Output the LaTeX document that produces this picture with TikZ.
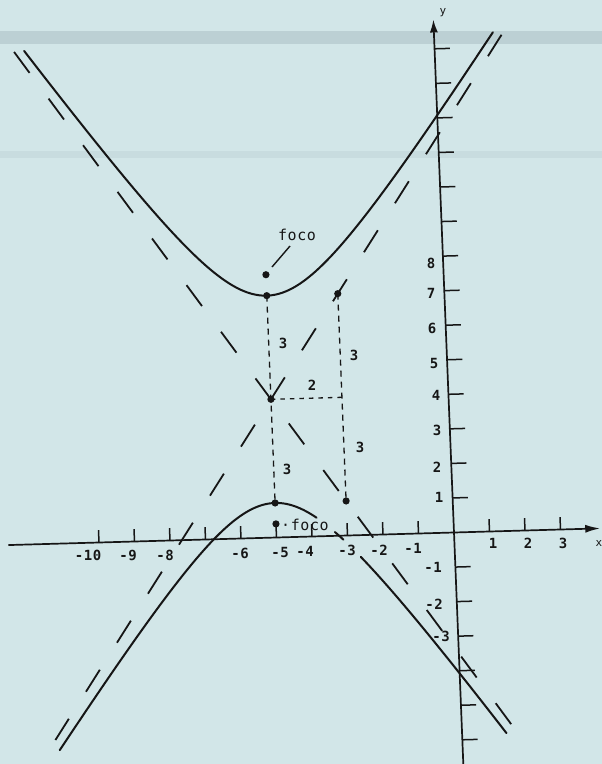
\documentclass[tikz,border=0pt]{standalone}
\usepackage{fontspec}
\usetikzlibrary{arrows.meta}
\newfontfamily\plotfont[LetterSpace=4]{DejaVu Sans Mono}
\definecolor{paper}{HTML}{D2E6E8}
\definecolor{bandc}{HTML}{B4C8CC}
\definecolor{inkc}{HTML}{161616}
\begin{document}
\begin{tikzpicture}[x=1pt,y=1pt,
  curve/.style={draw=inkc,line width=2pt,line cap=round},
  asym/.style={draw=inkc,line width=1.8pt,dash pattern=on 26pt off 32pt},
  boxln/.style={draw=inkc,line width=1.3pt,dash pattern=on 6pt off 5pt},
  hboxln/.style={draw=inkc,line width=1.3pt,dash pattern=on 4.5pt off 5pt},
  axisln/.style={draw=inkc,line width=1.7pt},
  tickln/.style={draw=inkc,line width=1.5pt},
  leader/.style={draw=inkc,line width=1.4pt},
  lbl/.style={text=inkc,font=\plotfont\bfseries\fontsize{14}{16}\selectfont,inner sep=0pt},
  smalllbl/.style={text=inkc,font=\plotfont\fontsize{11}{13}\selectfont,inner sep=0pt},
  dotpt/.style={fill=inkc}]
% page
\fill[paper] (0,0) rectangle (602,-764);
\useasboundingbox (0,0) rectangle (602,-764);
\fill[bandc,opacity=0.7] (0,-31) rectangle (602,-44);
\fill[bandc,opacity=0.3] (0,-151) rectangle (602,-158);

\begin{scope}[shift={(454pt,-532.5pt)},x={(35.5pt,1.0pt)},y={(-1.39pt,34.55pt)}]
  % axes
  \coordinate (xa0) at (-12.55,0);
  \coordinate (xa1) at (4.12,0);
  \coordinate (ya0) at (0,-7);
  \coordinate (ya1) at (0,14.85);
  \draw[axisln,-{Latex[length=15pt,width=8pt]}] (xa0) -- (xa1);
  \draw[axisln,-{Latex[length=13pt,width=8pt]}] (ya0) -- (ya1);
  % ticks
  \foreach \t in {-10,-9,-8,-7,-6,-5,-4,-3,-2,-1,1,2,3}
    \draw[tickln] (\t,0) -- (\t,0.36);
  \foreach \t in {-6,-5,-4,-3,-2,-1,1,2,3,4,5,6,7,8,9,10,11,12,13,14}
    \draw[tickln] (0,\t) -- (0.43,\t);

  % key points
  \coordinate (C) at (-5,4);
  \coordinate (V1) at (-5,7);
  \coordinate (V2) at (-5,1);
  \coordinate (F1) at (-5,7.606);
  \coordinate (F2) at (-5,0.394);
  \coordinate (R1) at (-3,7);
  \coordinate (R2) at (-3,1);
  \coordinate (R0) at (-3,4);

  % asymptotes (from centre outward)
  \coordinate (A1u) at (1.9,14.35);
  \coordinate (A1d) at (-11.45,-5.675);
  \coordinate (A2u) at (-11.9,14.35);
  \coordinate (A2d) at (1.6,-5.9);
  \draw[asym] (C) -- (A1u);
  \draw[asym] (C) -- (A2u);
  \draw[asym,dash phase=28pt] (C) -- (A1d);
  \draw[asym,dash phase=28pt] (C) -- (A2d);

  % auxiliary rectangle lines
  \draw[boxln] (V1) -- (V2);
  \draw[boxln] (R1) -- (R2);
  \draw[hboxln] (C) -- (R0);

  % hyperbola branches
  \draw[curve] plot[domain=-11.55:1.66,samples=120,smooth] (\x,{4+3*sqrt(1+((\x+5)/2)^2)});
  \draw[curve] plot[domain=-11.34:-3.85,samples=100,smooth] (\x,{4-3*sqrt(1+((\x+5)/2)^2)});
  \draw[curve] plot[domain=-3.35:-3.12,samples=5] (\x,{4-3*sqrt(1+((\x+5)/2)^2)});
  \draw[curve] plot[domain=-2.65:1.25,samples=80,smooth] (\x,{4-3*sqrt(1+((\x+5)/2)^2)});

  % points
  \foreach \p in {C,V1,V2,F1,F2,R1,R2}
    \fill[dotpt] (\p) circle[radius=3.6pt];
\end{scope}

% axis names
\node[smalllbl] (ylab) at (443,-13) {y};
\node[smalllbl] (xlab) at (599,-543) {x};

% x tick labels
\foreach \t/\px/\py [count=\i] in {-10/88/555,-9/128/555,-8/165/555,-6/240/553,-5/280/552,-4/305/551,-3/347/550,-2/379/550,-1/413/548,1/493/543,2/528/543,3/563/543}
  \node[lbl] (xl\i) at (\px,-\py) {\t};
% y tick labels
\foreach \t/\px/\py [count=\i] in {8/431/263,7/431/293,6/432/328,5/434/363,4/436/395,3/437/430,2/437/467,1/439/497,-1/433/567,-2/434/604,-3/441/636}
  \node[lbl] (yl\i) at (\px,-\py) {\t};

% segment labels
\node[lbl] (s1) at (283,-343) {3};
\node[lbl] (s2) at (354,-355) {3};
\node[lbl] (s3) at (312,-385) {2};
\node[lbl] (s4) at (360,-447) {3};
\node[lbl] (s5) at (287,-469) {3};

% foco labels
\node[lbl,font=\plotfont\fontsize{15}{17}\selectfont] (foco1) at (297,-235) {foco};
\coordinate (ldA) at (290,-246);
\coordinate (ldB) at (272,-267);
\draw[leader] (ldA) -- (ldB);
\node[lbl,font=\plotfont\fontsize{15}{17}\selectfont] (foco2) at (305,-525) {·foco};
\end{tikzpicture}
\end{document}
